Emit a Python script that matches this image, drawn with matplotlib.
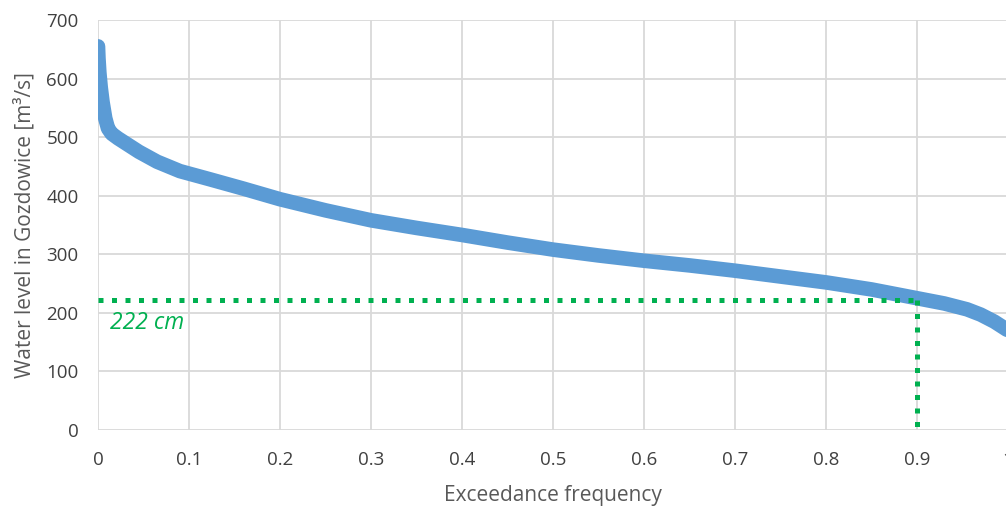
import matplotlib
matplotlib.use('Agg')
import matplotlib.pyplot as plt

plt.rcParams['font.family'] = ['Open Sans', 'DejaVu Sans']

# duration curve
freq = [0.0, 0.0005, 0.0015, 0.003, 0.005, 0.008, 0.011, 0.015, 0.022, 0.03,
        0.045, 0.065, 0.09, 0.123, 0.16, 0.2, 0.25, 0.3, 0.35, 0.4, 0.45,
        0.5, 0.55, 0.6, 0.65, 0.7, 0.75, 0.8, 0.85, 0.9, 0.93, 0.955, 0.97,
        0.985, 1.0]
level = [655, 635, 610, 585, 560, 532, 515, 506, 498, 490,
         475, 458, 442, 428, 412, 394, 375, 358, 345, 333, 320,
         308, 298, 289, 281, 272, 262, 252, 240, 225, 216, 206, 197,
         185, 170]

mark_freq = 0.9
mark_level = 222
mark_text = '222 cm'

x_ticks = [0, 0.1, 0.2, 0.3, 0.4, 0.5, 0.6, 0.7, 0.8, 0.9, 1]
x_labels = ['0', '0.1', '0.2', '0.3', '0.4', '0.5', '0.6', '0.7', '0.8', '0.9', '1']
y_ticks = [0, 100, 200, 300, 400, 500, 600, 700]

fig = plt.figure(figsize=(10.06, 5.07), dpi=100)
ax = fig.add_axes([98 / 1006, 1 - 430 / 507, 910 / 1006, 410 / 507])

ax.plot(freq, level, color='#5B9BD5', lw=10.5, solid_capstyle='round',
        solid_joinstyle='round', zorder=3)

green = '#00B050'
ax.plot([0, mark_freq], [mark_level, mark_level], color=green, lw=3.6,
        linestyle=(0, (1, 1.7)), dash_capstyle='butt', zorder=4)
ax.plot([mark_freq, mark_freq], [mark_level, 0], color=green, lw=3.6,
        linestyle=(0, (1, 1.7)), dash_capstyle='butt', zorder=4)
ax.text(0.013, 182, mark_text, color=green, fontsize=16.5, style='italic',
        ha='left', va='center')

ax.set_xlim(0, 1)
ax.set_ylim(0, 700)
ax.set_xticks(x_ticks)
ax.set_xticklabels(x_labels)
ax.set_yticks(y_ticks)
ax.grid(True, color='#D9D9D9', lw=1.3)
ax.set_axisbelow(True)
for s in ax.spines.values():
    s.set_visible(False)
ax.tick_params(length=0, labelsize=13.5, labelcolor='#404040')
ax.tick_params(axis='y', pad=14)
ax.tick_params(axis='x', pad=15)

ax.set_xlabel('Exceedance frequency', fontsize=15, color='#595959', labelpad=12)
ax.set_ylabel('Water level in Gozdowice [m³/s]', fontsize=15, color='#595959',
              labelpad=8)

fig.savefig('out.png', dpi=100)
